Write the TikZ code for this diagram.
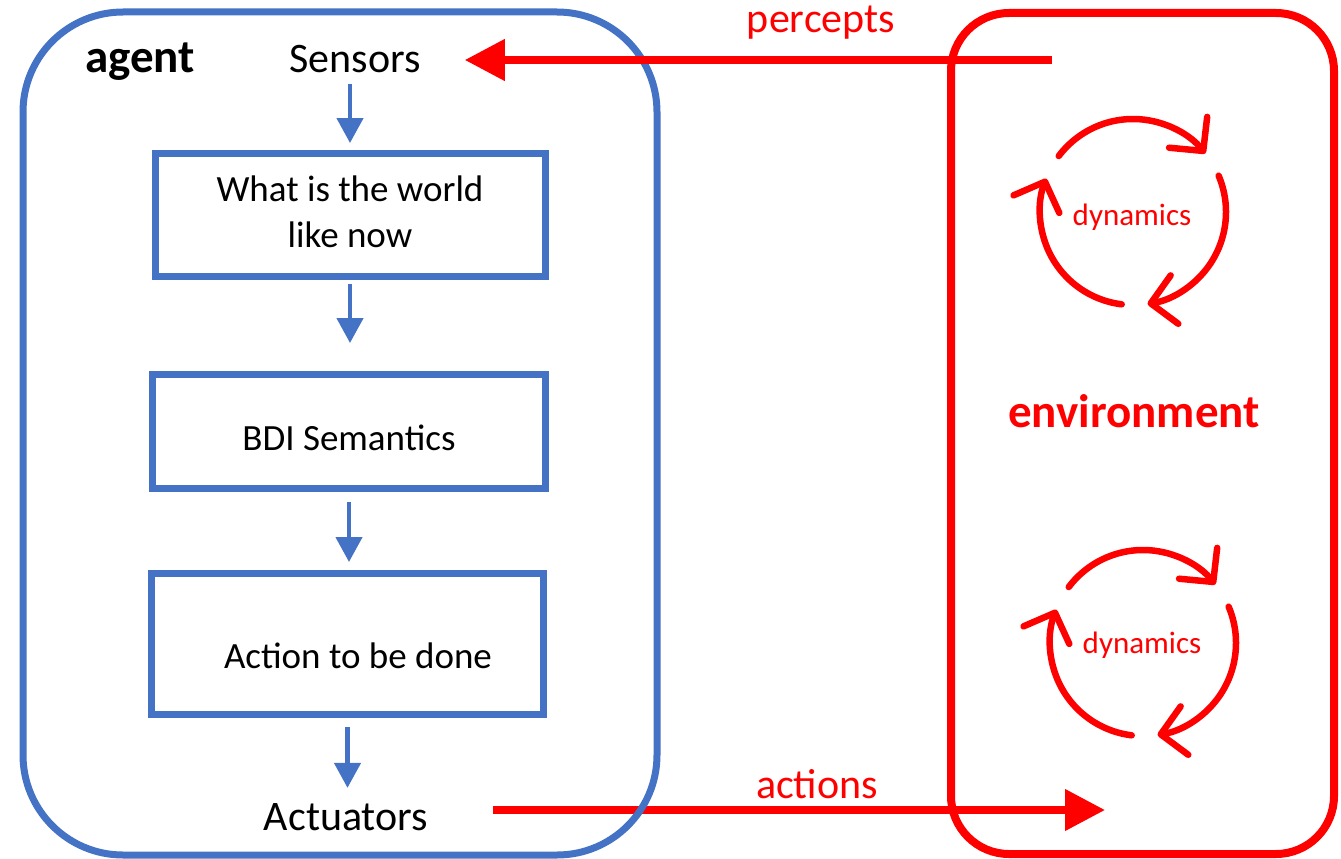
\documentclass[tikz,border=0pt]{standalone}
\usepackage{fontspec}
\setmainfont{Carlito}
\usetikzlibrary{arrows.meta}
\definecolor{agentblue}{RGB}{68,114,196}
\definecolor{envred}{RGB}{255,0,0}
\begin{document}
\begin{tikzpicture}[x=1pt,y=-1pt,
  txt/.style={inner sep=0pt, anchor=base},
  big/.style={font=\fontsize{42}{50}\selectfont},
  stage/.style={draw=agentblue, line width=7pt, inner sep=0pt, align=center,
                font=\fontsize{37}{46}\selectfont},
  flow/.style={draw=agentblue, line width=4.5pt, -{Triangle[length=25pt,width=26pt]}},
  signal/.style={draw=envred, line width=7.5pt, -{Triangle[length=40pt,width=40pt]}},
  cyc/.style={draw=envred, line width=6.5pt, line cap=round,
              -{Straight Barb[length=24pt,width=49pt,round]}},
  dyn/.style={txt, text=envred, font=\fontsize{31}{36}\selectfont},
]
\useasboundingbox (0,0) rectangle (1341,859);

% text labels of the agent
\node[txt, font=\fontsize{47}{56}\selectfont\bfseries] (agentlabel) at (140,73) {agent};
\node[txt, big] (sensors) at (355,73) {Sensors};
\node[txt, big] (actuators) at (346,830) {Actuators};

% processing stages
\node[stage, minimum width=390pt, minimum height=123pt, text height=65pt, text depth=0pt]
  (world) at (350,214.5) {What is the world\\like now};
\node[stage, minimum width=393pt, minimum height=114pt, text height=37pt, text depth=0pt]
  (bdi) at (349,431.5) {BDI Semantics};
\node[stage, minimum width=392pt, minimum height=141pt, text height=48pt, text depth=0pt]
  (todo) at (347.5,644) {\hspace*{21pt}Action to be done};

% flow inside the agent
\draw[flow, shorten <=10pt, shorten >=6.5pt] (sensors.south -| world.north) -- (world.north);
\draw[flow, shorten <=4.5pt, shorten >=28pt] (world.south) -- (world.south |- bdi.north);
\draw[flow, shorten <=10pt, shorten >=8pt] (bdi.south) -- (bdi.south |- todo.north);
\draw[flow, shorten <=9pt, shorten >=15pt] (todo.south) -- (todo.south |- actuators.north);

% actions going out to the environment
\coordinate (aend) at (1105,810);
\draw[signal, shorten <=65pt] (actuators.east |- aend) -- (aend);
\node[txt, big, text=envred] (actionslabel) at (817,798) {actions};

% agent frame
\node[draw=agentblue, line width=7pt, rounded corners=100pt, inner sep=0pt,
      minimum width=634pt, minimum height=843pt] (agentbox) at (340,433.5) {};

% percepts coming from the environment
\coordinate (pstart) at (1052,60);
\draw[signal, shorten >=44pt] (pstart) -- (pstart -| sensors.east);
\node[txt, big, text=envred] (perceptslabel) at (821,33) {percepts};

% environment frame
\node[draw=envred, line width=8pt, rounded corners=58pt, inner sep=0pt,
      minimum width=383pt, minimum height=841pt] (envbox) at (1142.5,433.5) {};
\node[txt, text=envred, font=\fontsize{47}{56}\selectfont\bfseries] (envlabel) at (1134,427) {environment};

% dynamics cycles
\coordinate (cycA) at (1133,212);
\coordinate (cycB) at (1143,643);
\foreach \c in {cycA,cycB}{
  \draw[cyc] ([shift={(-143:93)}]\c) arc[start angle=-143, end angle=-39, radius=93];
  \draw[cyc] ([shift={(-23:93)}]\c) arc[start angle=-23, end angle=81, radius=93];
  \draw[cyc] ([shift={(97:93)}]\c) arc[start angle=97, end angle=201, radius=93];
}
\node[dyn] (dynA) at (1132,225) {dynamics};
\node[dyn] (dynB) at (1142,653) {dynamics};
\end{tikzpicture}
\end{document}
